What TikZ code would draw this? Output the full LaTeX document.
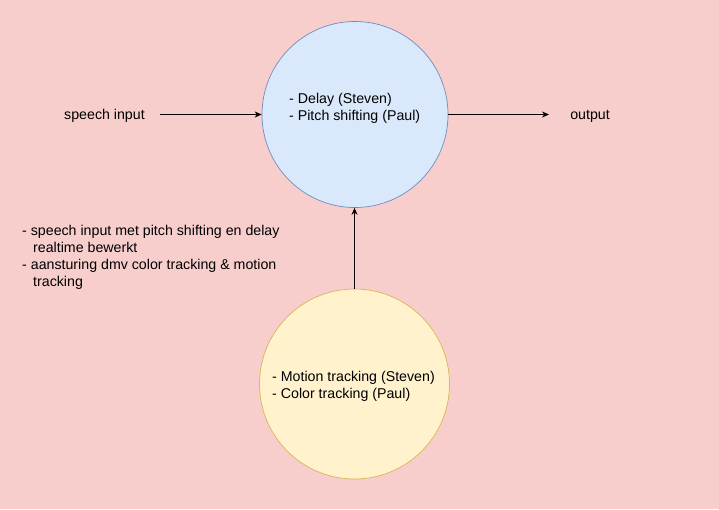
\documentclass[tikz,border=0pt]{standalone}
\usepackage{fontspec}
\setmainfont{Liberation Sans}
\usetikzlibrary{arrows.meta}
\definecolor{bgpink}{HTML}{F8CECC}
\definecolor{bluefill}{HTML}{DAE8FC}
\definecolor{bluedraw}{HTML}{6C8EBF}
\definecolor{yelfill}{HTML}{FFF2CC}
\definecolor{yeldraw}{HTML}{D6B656}
\tikzset{
  circ/.style={circle, draw, line width=0.7pt, minimum size=#1, inner sep=0pt},
  lbl/.style={font=\fontsize{14.2}{17}\selectfont, inner sep=0pt},
  conn/.style={-{Stealth[length=7pt,width=6pt]}, line width=0.8pt, black},
}
\begin{document}
\begin{tikzpicture}[x=1pt,y=-1pt]
\fill[bgpink] (0,0) rectangle (719,509);
\useasboundingbox (0,0) rectangle (719,509);
\node[circ=186pt, fill=bluefill, draw=bluedraw] (fx) at (355,114.5) {};
\node[circ=190pt, fill=yelfill, draw=yeldraw] (trk) at (354.5,384) {};
\node[lbl, anchor=west, align=left] (fxt) at (289,108) {- Delay (Steven)\\- Pitch shifting (Paul)};
\node[lbl, anchor=west, align=left] (trkt) at (272,386) {- Motion tracking (Steven)\\- Color tracking (Paul)};
\node[lbl] (in) at (104.5,116) {speech input};
\node[lbl] (out) at (590,116) {output};
\coordinate (ins) at (160,114.5);
\coordinate (oute) at (549,114.5);
\draw[conn] (ins) -- (fx.west);
\draw[conn] (fx.east) -- (oute);
\draw[conn] (trk.north) -- (trk.north |- fx.south);
\node[lbl, anchor=west, align=left] (note) at (22,257.5) {- speech input met pitch shifting en delay\\\hspace*{11pt}realtime bewerkt\\- aansturing dmv color tracking \& motion\\\hspace*{11pt}tracking};
\end{tikzpicture}
\end{document}
